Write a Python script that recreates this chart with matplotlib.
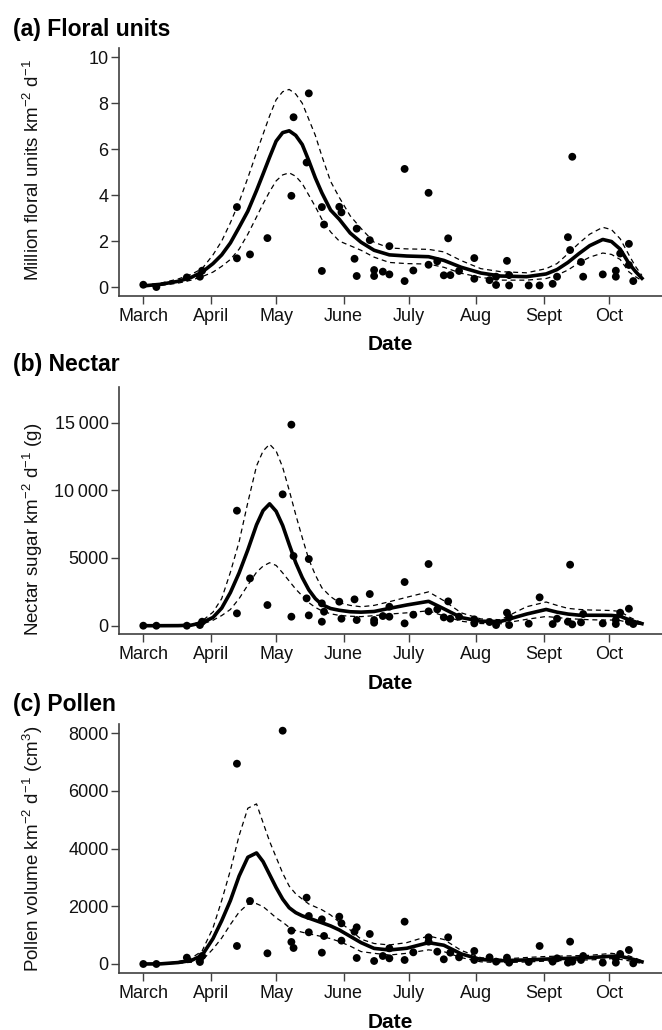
import matplotlib
matplotlib.use("Agg")
import matplotlib.pyplot as plt

plt.rcParams['font.family'] = ['Liberation Sans', 'DejaVu Sans']
plt.rcParams['mathtext.fontset'] = 'custom'
plt.rcParams['mathtext.rm'] = 'Liberation Sans'
plt.rcParams['mathtext.it'] = 'Liberation Sans:italic'
plt.rcParams['mathtext.bf'] = 'Liberation Sans:bold'

# ---- x axis: days since 1 March ----
month_days = [0, 31, 61, 92, 122, 153, 184, 214]
month_labels = ['March', 'April', 'May', 'June', 'July', 'Aug', 'Sept', 'Oct']

# ---- fitted curve sample dates (shared) ----
fit_days = [0, 8, 16, 22, 27, 32, 36, 40, 44, 48, 52, 55, 58, 61, 64, 67, 70, 73, 76, 79,
            82, 86, 90, 95, 100, 106, 113, 121, 131, 138, 146, 155, 164, 176, 185, 190,
            195, 200, 205, 211, 215, 219, 223, 226, 229]

# ---- (a) Floral units ----
a_days = [0, 6, 20, 26, 27, 43, 43, 49, 57, 68, 69, 75, 76, 82, 83, 82, 90, 91, 98, 97, 98,
          104, 106, 106, 110, 113, 113, 120, 120, 124, 131, 131, 135, 138, 140, 141, 145,
          152, 152, 159, 162, 162, 167, 168, 168, 177, 182, 188, 190, 195, 196, 197, 201,
          202, 211, 217, 217, 219, 223, 223, 225]
a_vals = [0.1, 0.0, 0.42, 0.45, 0.71, 3.48, 1.25, 1.42, 2.13, 3.97, 7.39, 5.42, 8.43, 3.48,
          2.72, 0.7, 3.49, 3.25, 2.54, 1.23, 0.48, 2.04, 0.74, 0.48, 0.67, 1.78, 0.55, 5.14,
          0.26, 0.72, 4.1, 0.97, 1.12, 0.51, 2.12, 0.52, 0.7, 1.26, 0.36, 0.3, 0.45, 0.09,
          1.14, 0.52, 0.07, 0.07, 0.07, 0.14, 0.45, 2.17, 1.61, 5.67, 1.09, 0.45, 0.55, 0.71,
          0.45, 1.46, 1.88, 0.96, 0.26]
a_fit = [0.05, 0.12, 0.25, 0.42, 0.65, 1.02, 1.4, 1.92, 2.6, 3.3, 4.2, 4.92, 5.65, 6.35,
         6.72, 6.8, 6.6, 6.2, 5.5, 4.75, 4.1, 3.35, 2.95, 2.35, 1.95, 1.6, 1.4, 1.35, 1.32,
         1.16, 0.86, 0.61, 0.48, 0.45, 0.57, 0.76, 1.07, 1.45, 1.8, 2.07, 1.98, 1.65, 1.03,
         0.68, 0.38]
a_hi = [0.08, 0.17, 0.35, 0.55, 0.8, 1.4, 2.0, 2.8, 3.7, 4.75, 5.85, 6.65, 7.45, 8.15, 8.5,
        8.6, 8.4, 8.0, 7.3, 6.6, 5.7, 4.6, 3.9, 3.1, 2.55, 1.95, 1.7, 1.66, 1.64, 1.53, 1.15,
        0.8, 0.67, 0.62, 0.8, 1.02, 1.45, 1.9, 2.3, 2.6, 2.5, 2.1, 1.4, 0.9, 0.5]
a_lo = [0.02, 0.07, 0.17, 0.3, 0.45, 0.65, 0.9, 1.2, 1.65, 2.3, 3.05, 3.62, 4.15, 4.62,
        4.88, 4.97, 4.82, 4.5, 4.0, 3.5, 2.95, 2.4, 2.0, 1.8, 1.6, 1.3, 1.07, 1.02, 1.0,
        0.86, 0.6, 0.42, 0.3, 0.3, 0.37, 0.52, 0.74, 1.05, 1.3, 1.48, 1.42, 1.2, 0.66,
        0.45, 0.28]

# ---- (b) Nectar ----
b_days = [0, 6, 20, 26, 27, 43, 43, 49, 57, 64, 68, 68, 69, 76, 75, 76, 82, 83, 82,
          90, 91, 97, 98, 104, 106, 106, 110, 113, 113, 120, 120, 124, 131, 131, 135, 138,
          140, 141, 145, 152, 152, 159, 162, 167, 168, 168, 177, 182, 188, 190, 195, 196,
          197, 201, 202, 211, 217, 217, 219, 223, 223, 225]
b_vals = [0, 0, 0, 50, 295, 8494, 911, 3496, 1526, 9700, 14846, 665, 5146, 4924, 2019, 763,
          1650, 1034, 295, 1773, 517, 1945, 419, 2339, 419, 222, 714, 1403, 665, 3225, 172,
          812, 4555, 1059, 1206, 616, 1797, 517, 665, 468, 172, 271, 49, 960, 616, 49, 148,
          2093, 123, 517, 295, 4505, 98, 246, 862, 172, 419, 123, 960, 1256, 295, 123]
b_fit = [0, 0, 5, 40, 220, 610, 1300, 2450, 3900, 5600, 7450, 8500, 9000, 8450, 7400, 6000,
         4650, 3550, 2650, 2000, 1560, 1270, 1140, 1030, 1000, 1050, 1280, 1530, 1800, 1250,
         600, 330, 310, 860, 1200, 1000, 860, 780, 770, 770, 760, 700, 440, 280, 150]
b_hi = [0, 0, 10, 70, 350, 1000, 2000, 3950, 6200, 9100, 11800, 12900, 13400, 12900, 11700,
        10000, 8200, 6500, 4900, 3750, 2800, 2150, 1700, 1500, 1400, 1500, 1770, 2100, 2500,
        1850, 950, 500, 440, 1400, 1750, 1500, 1280, 1200, 1160, 1140, 1120, 1050, 650, 420,
        220]
b_lo = [0, 0, 2, 20, 120, 400, 750, 1200, 2000, 3000, 3950, 4400, 4650, 4450, 3900, 3300,
        2700, 2200, 1700, 1350, 1100, 880, 760, 700, 670, 740, 860, 950, 1100, 720, 330, 160,
        140, 470, 680, 600, 530, 480, 440, 420, 420, 380, 230, 150, 80]

# ---- (c) Pollen ----
c_days = [0, 6, 20, 26, 27, 26, 43, 43, 49, 57, 64, 68, 68, 69, 75, 76, 76, 82, 83, 82,
          90, 91, 91, 97, 98, 98, 104, 106, 110, 113, 113, 120, 120, 124, 131, 131, 135,
          138, 140, 141, 145, 152, 152, 159, 162, 167, 168, 177, 182, 188, 190, 195, 196,
          197, 201, 202, 211, 217, 217, 219, 223, 225]
c_vals = [0, 0, 220, 162, 277, 69, 6944, 624, 2184, 370, 8088, 1155, 763, 555, 2299, 1664,
          1098, 1548, 971, 393, 1641, 1410, 809, 1121, 1271, 208, 1040, 104, 277, 543, 196,
          1467, 139, 404, 924, 774, 427, 162, 924, 393, 231, 451, 139, 231, 81, 220, 46, 69,
          624, 81, 196, 46, 774, 81, 139, 277, 46, 196, 46, 347, 485, 23]
c_fit = [0, 5, 50, 120, 300, 880, 1500, 2200, 3050, 3700, 3850, 3550, 3100, 2650, 2250, 1950,
         1780, 1670, 1590, 1510, 1430, 1320, 1180, 960, 740, 540, 485, 545, 740, 650, 350,
         155, 115, 140, 170, 185, 195, 210, 220, 250, 270, 265, 200, 140, 75]
c_hi = [0, 10, 80, 200, 450, 1250, 2200, 3250, 4450, 5400, 5550, 4900, 4250, 3700, 3150,
        2700, 2430, 2250, 2080, 1980, 1880, 1700, 1450, 1180, 860, 710, 660, 740, 970, 850,
        470, 220, 165, 225, 260, 270, 280, 290, 300, 340, 370, 330, 280, 200, 110]
c_lo = [0, 0, 25, 60, 120, 520, 900, 1370, 1800, 2070, 2090, 1990, 1800, 1600, 1450, 1270,
        1160, 1100, 1050, 1000, 950, 880, 780, 620, 430, 370, 310, 370, 490, 430, 220, 75, 45,
        70, 100, 115, 125, 135, 140, 165, 185, 160, 110, 60, 20]

panels = [
    dict(title='(a) Floral units', ylabel=r'Million floral units km$^{-2}$ d$^{-1}$',
         days=a_days, vals=a_vals, fit=a_fit, hi=a_hi, lo=a_lo,
         yticks=[0, 2, 4, 6, 8, 10], yticklabels=['0', '2', '4', '6', '8', '10'],
         ylim=(-0.39, 10.39), rect=[119, 48.3, 662, 296], ylab_y=0.51, title_y=36),
    dict(title='(b) Nectar', ylabel=r'Nectar sugar km$^{-2}$ d$^{-1}$ (g)',
         days=b_days, vals=b_vals, fit=b_fit, hi=b_hi, lo=b_lo,
         yticks=[0, 5000, 10000, 15000], yticklabels=['0', '5000', '10\u2009000', '15\u2009000'],
         ylim=(-635, 17650), rect=[119, 386.7, 662, 634.3], ylab_y=0.425, title_y=370.5),
    dict(title='(c) Pollen', ylabel=r'Pollen volume km$^{-2}$ d$^{-1}$ (cm$^{3}$)',
         days=c_days, vals=c_vals, fit=c_fit, hi=c_hi, lo=c_lo,
         yticks=[0, 2000, 4000, 6000, 8000], yticklabels=['0', '2000', '4000', '6000', '8000'],
         ylim=(-323, 8310), rect=[119, 724.3, 662, 973.3], ylab_y=0.5, title_y=710.5),
]

W, H = 662, 1030
fig = plt.figure(figsize=(W / 100, H / 100), dpi=100)
spine_col = '#404040'

for p in panels:
    l, t, r, b = p['rect']
    ax = fig.add_axes([l / W, 1 - b / H, (r - l) / W, (b - t) / H])
    ax.scatter(p['days'], p['vals'], s=32, color='black', edgecolors='none', zorder=2)
    ax.plot(fit_days, p['fit'], color='black', lw=2.6, zorder=3, solid_joinstyle='round')
    ax.plot(fit_days, p['hi'], color='black', lw=0.9, dashes=(4, 3), zorder=3)
    ax.plot(fit_days, p['lo'], color='black', lw=0.9, dashes=(4, 3), zorder=3)
    ax.set_xlim(-11.16, 238.2)
    ax.set_ylim(*p['ylim'])
    ax.set_xticks(month_days)
    ax.set_xticklabels(month_labels)
    ax.set_yticks(p['yticks'])
    ax.set_yticklabels(p['yticklabels'])
    for s in ['top', 'right']:
        ax.spines[s].set_visible(False)
    for s in ['left', 'bottom']:
        ax.spines[s].set_color(spine_col)
        ax.spines[s].set_linewidth(1.2)
    ax.tick_params(axis='both', direction='out', length=5.5, width=1.0, color=spine_col,
                   labelsize=13, labelcolor='#111111')
    ax.tick_params(axis='x', pad=3)
    ax.tick_params(axis='y', pad=2)
    ax.text(0.5, -49 / (b - t), 'Date', transform=ax.transAxes, ha='center', va='center',
            fontsize=15, fontweight='bold')
    ax.text((33 - l) / (r - l), p['ylab_y'], p['ylabel'], transform=ax.transAxes,
            rotation=90, ha='center', va='center', fontsize=13.5, color='#111111')
    fig.text(13 / W, 1 - p['title_y'] / H, p['title'], ha='left', va='baseline',
             fontsize=16.5, fontweight='bold')

fig.savefig('out.png', dpi=100)
